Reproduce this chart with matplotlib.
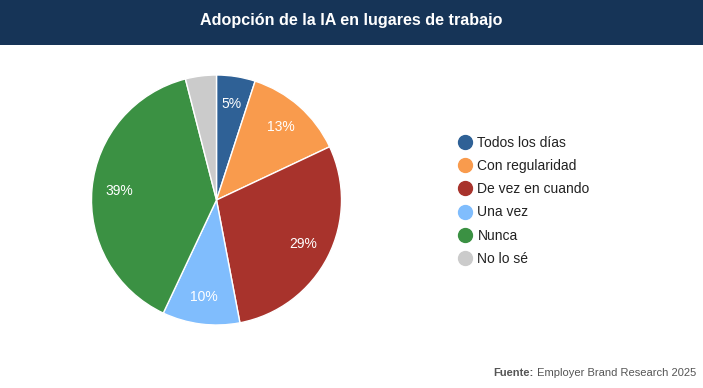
import matplotlib.pyplot as plt
from matplotlib.lines import Line2D
from matplotlib.patches import Rectangle

plt.rcParams['font.family'] = ['Liberation Sans', 'DejaVu Sans']

# data
categories = ["Todos los días", "Con regularidad", "De vez en cuando",
              "Una vez", "Nunca", "No lo sé"]
values = [5, 13, 29, 10, 39, 4]
colors = ["#2f6196", "#f99b4d", "#a8332c", "#80bdfd", "#3b9143", "#cbcbcb"]

W, H = 703, 388
fig = plt.figure(figsize=(W / 100, H / 100), dpi=100)
fig.patch.set_facecolor("white")

# header bar
bar_h = 45 / H
fig.patches.append(Rectangle((0, 1 - bar_h), 1, bar_h, transform=fig.transFigure,
                             facecolor="#163457", edgecolor="none", zorder=0))
fig.text(0.5, 1 - 21 / H, "Adopción de la IA en lugares de trabajo",
         ha="center", va="center", color="white", fontsize=11.6, fontweight="bold")

# pie
cx, cy, r = 216.5, 200, 125
ax = fig.add_axes([(cx - r) / W, (H - cy - r) / H, 2 * r / W, 2 * r / H])


def fmt(p):
    return f"{p:.0f}%" if p >= 5 else ""


wedges, texts, autotexts = ax.pie(
    values, colors=colors, startangle=90, counterclock=False,
    autopct=fmt, pctdistance=0.78,
    wedgeprops=dict(edgecolor="white", linewidth=1),
    textprops=dict(color="white", fontsize=10),
)
ax.set_xlim(-1, 1)
ax.set_ylim(-1, 1)
ax.set_aspect("equal")

# legend
handles = [Line2D([0], [0], marker="o", linestyle="none", markersize=10,
                  markerfacecolor=c, markeredgecolor=c) for c in colors]
fig.legend(handles, categories, loc="upper left",
           bbox_to_anchor=(458 / W, 1 - 136 / H), frameon=False,
           fontsize=10, labelspacing=0.66, handlelength=1.0,
           handletextpad=0.4, borderpad=0, borderaxespad=0,
           labelcolor="#222222")

# footer: bold "Fuente:" followed by the source name, right aligned
rest = fig.text(696 / W, 1 - 373 / H, " Employer Brand Research 2025",
                ha="right", va="center", color="#555555", fontsize=8)
fig.canvas.draw()
bb = rest.get_window_extent()
fig.text(bb.x0 / W, 1 - 373 / H, "Fuente:", ha="right", va="center",
         color="#555555", fontsize=8, fontweight="bold")

fig.savefig("out.png", dpi=100)
